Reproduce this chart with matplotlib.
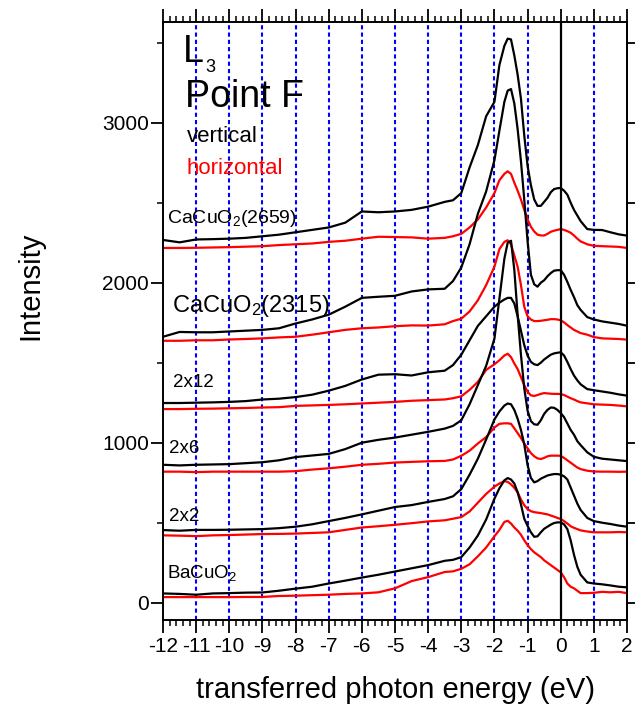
import matplotlib
matplotlib.use('Agg')
import matplotlib.pyplot as plt
from matplotlib.ticker import MultipleLocator

plt.rcParams.update({
    'font.family': ['Liberation Sans', 'DejaVu Sans'],
    'mathtext.fontset': 'custom',
    'mathtext.rm': 'Liberation Sans',
    'mathtext.it': 'Liberation Sans:italic',
    'mathtext.bf': 'Liberation Sans:bold',
    'axes.unicode_minus': False,
})

RED = '#ff0000'
BLUE = '#0000ff'

# transferred photon energy (eV), shared by all spectra
energy = [-12, -11.5, -11, -10.5, -10, -9.5, -9, -8.5, -8, -7.5, -7, -6.5, -6, -5.5, -5, -4.5, -4, -3.5,
          -3.25, -3, -2.75, -2.5, -2.25, -2.0,
          -1.85, -1.7, -1.6,
          -1.5, -1.4, -1.3, -1.2, -1.1, -1.0, -0.9, -0.8, -0.7, -0.6, -0.5, -0.4, -0.3, -0.2, -0.1,
          0, 0.1, 0.2, 0.3, 0.4, 0.5, 0.6,
          0.8, 1.0, 1.25, 1.5, 1.75, 2.0]

# CaCuO2 (2659)
cacuo2_2659_v = [2267, 2252, 2270, 2272, 2275, 2280, 2290, 2300, 2315, 2330, 2345, 2375, 2445, 2440, 2445, 2455, 2475, 2505,
                 2515, 2560, 2720, 2860, 3040, 3130,
                 3360, 3480, 3525,
                 3520, 3420, 3300, 3150, 2920, 2730, 2610, 2520, 2480, 2480, 2505, 2530, 2565, 2585, 2590,
                 2592, 2575, 2550, 2500, 2455, 2420, 2385,
                 2335, 2330, 2329, 2315, 2302, 2294]
cacuo2_2659_h = [2217, 2217, 2218, 2220, 2222, 2225, 2228, 2235, 2240, 2245, 2255, 2262, 2275, 2287, 2285, 2283, 2275, 2280,
                 2290, 2305, 2345, 2395, 2470, 2560,
                 2640, 2680, 2696,
                 2680, 2625, 2575, 2520, 2455, 2395, 2350, 2320, 2300, 2295, 2295, 2305, 2318, 2325, 2330,
                 2335, 2330, 2322, 2312, 2295, 2275, 2258,
                 2240, 2230, 2228, 2226, 2224, 2217]

# CaCuO2 (2315)
cacuo2_2315_v = [1662, 1692, 1690, 1690, 1695, 1700, 1705, 1715, 1745, 1770, 1800, 1850, 1905, 1912, 1918, 1945, 1958, 1962,
                 2010, 2095, 2240, 2430, 2570, 2765,
                 2950, 3130, 3200,
                 3210, 3120, 2960, 2760, 2520, 2260, 2050, 1990, 1975, 2000, 2015, 2040, 2060, 2075, 2078,
                 2078, 2050, 2005, 1955, 1910, 1860, 1830,
                 1785, 1770, 1758, 1750, 1742, 1731]
cacuo2_2315_h = [1637, 1637, 1640, 1640, 1645, 1648, 1652, 1658, 1662, 1675, 1690, 1705, 1715, 1720, 1728, 1733, 1732, 1740,
                 1760, 1775, 1820, 1890, 1985, 2100,
                 2210, 2255, 2265,
                 2240, 2170, 2100, 1985, 1850, 1790, 1770, 1760, 1760, 1762, 1765, 1768, 1772, 1772, 1770,
                 1765, 1752, 1735, 1720, 1705, 1695, 1685,
                 1675, 1660, 1652, 1650, 1648, 1644]

# 2x12 superlattice
sl_2x12_v = [1248, 1248, 1250, 1252, 1255, 1260, 1270, 1275, 1285, 1300, 1325, 1355, 1395, 1425, 1428, 1420, 1440, 1450,
             1485, 1550, 1640, 1730, 1790, 1850,
             1875, 1895, 1905,
             1905, 1870, 1790, 1700, 1610, 1545, 1505, 1490, 1485, 1500, 1520, 1535, 1550, 1558, 1562,
             1565, 1545, 1505, 1460, 1420, 1390, 1365,
             1335, 1328, 1320, 1312, 1302, 1294]
sl_2x12_h = [1210, 1210, 1212, 1213, 1215, 1217, 1220, 1222, 1230, 1233, 1236, 1240, 1245, 1250, 1255, 1262, 1266, 1270,
             1278, 1290, 1330, 1380, 1455, 1490,
             1515, 1545, 1556,
             1535, 1495, 1460, 1410, 1360, 1318, 1296, 1292, 1298, 1305, 1310, 1308, 1306, 1305, 1305,
             1304, 1298, 1288, 1278, 1270, 1260, 1252,
             1246, 1240, 1238, 1236, 1232, 1227]

# 2x6 superlattice
sl_2x6_v = [862, 858, 862, 864, 866, 872, 878, 890, 910, 920, 930, 960, 1000, 1018, 1032, 1050, 1068, 1088,
            1105, 1140, 1240, 1360, 1480, 1650,
            1900, 2150, 2250,
            2262, 2080, 1800, 1550, 1340, 1200, 1135, 1115, 1112, 1140, 1180, 1205, 1220, 1218, 1205,
            1185, 1160, 1120, 1080, 1050, 1010, 985,
            940, 912, 900, 895, 890, 885]
sl_2x6_h = [819, 819, 816, 819, 819, 819, 819, 819, 822, 832, 840, 850, 862, 868, 876, 880, 884, 886,
            895, 918, 950, 995, 1035, 1095,
            1118, 1121, 1121,
            1118, 1090, 1060, 1030, 995, 965, 935, 915, 902, 898, 905, 915, 919, 919, 919,
            918, 905, 890, 875, 860, 845, 835,
            825, 820, 819, 819, 818, 819]

# 2x2 superlattice
sl_2x2_v = [454, 450, 455, 455, 456, 458, 460, 466, 475, 490, 510, 530, 552, 575, 598, 610, 630, 648,
            665, 710, 800, 900, 1020, 1145,
            1195, 1232, 1245,
            1240, 1205, 1150, 1080, 990, 860, 780, 752, 760, 775, 785, 795, 800, 804, 804,
            800, 790, 770, 720, 670, 620, 580,
            530, 510, 500, 492, 482, 475]
sl_2x2_h = [421, 419, 416, 421, 423, 426, 429, 430, 432, 436, 440, 455, 470, 478, 487, 497, 508, 515,
            525, 535, 570, 625, 680, 725,
            745, 760, 755,
            740, 718, 690, 645, 610, 585, 572, 566, 563, 560, 556, 552, 545, 538, 530,
            523, 510, 495, 478, 468, 460, 452,
            445, 440, 440, 440, 442, 440]

# BaCuO2
bacuo2_v = [58, 55, 50, 58, 60, 63, 64, 75, 88, 100, 120, 138, 157, 175, 195, 215, 235, 262,
            268, 285, 345, 420, 520, 650,
            715, 765, 779,
            770, 745, 690, 615, 525, 480, 440, 412, 415, 440, 462, 475, 488, 498, 502,
            502, 490, 460, 390, 300, 225, 175,
            127, 120, 115, 108, 100, 96]
bacuo2_h = [35, 35, 35, 35, 35, 36, 36, 42, 44, 47, 50, 55, 58, 65, 90, 135, 160, 192,
            196, 212, 240, 290, 345, 415,
            455, 505, 512,
            495, 470, 450, 425, 390, 360, 335, 315, 300, 285, 265, 250, 235, 220, 205,
            190, 160, 120, 100, 90, 75, 60,
            60, 62, 68, 65, 68, 60]

vertical = [cacuo2_2659_v, cacuo2_2315_v, sl_2x12_v, sl_2x6_v, sl_2x2_v, bacuo2_v]
horizontal = [cacuo2_2659_h, cacuo2_2315_h, sl_2x12_h, sl_2x6_h, sl_2x2_h, bacuo2_h]

guide_lines = [-11, -10, -9, -8, -7, -6, -5, -4, -3, -2, -1, 1]

# sample labels: text, x, y (baseline), size
sample_labels = [
    ('CaCuO$_2$(2659)', -11.88, 2375, 14),
    ('CaCuO$_2$(2315)', -11.73, 1819, 17),
    ('2x12', -11.70, 1350, 13.5),
    ('2x6', -11.81, 934, 13.5),
    ('2x2', -11.81, 513, 13.5),
    ('BaCuO$_2$', -11.87, 152, 13.5),
]

fig = plt.figure(figsize=(6.36, 7.16), dpi=100)
ax = fig.add_axes([163 / 636, 1 - 620 / 716, 464 / 636, 598 / 716])

for x in guide_lines:
    ax.axvline(x, color=BLUE, lw=1.5, ls=(0, (2, 1.5)), zorder=1)
ax.axvline(0, color='black', lw=1.6, zorder=3)

for v, h in zip(vertical, horizontal):
    ax.plot(energy, h, color=RED, lw=1.6, zorder=2)
    ax.plot(energy, v, color='black', lw=1.6, zorder=2)

# legend-like text block
ax.text(-11.40, 3381, 'L', fontsize=27, ha='left', va='baseline')
ax.text(-10.73, 3319, '3', fontsize=13, ha='left', va='baseline')
ax.text(-11.35, 3096, 'Point F', fontsize=27, ha='left', va='baseline')
ax.text(-11.28, 2881, 'vertical', fontsize=16, ha='left', va='baseline', color='black')
ax.text(-11.28, 2679, 'horizontal', fontsize=16, ha='left', va='baseline', color=RED)

for text, x, y, size in sample_labels:
    ax.text(x, y, text, fontsize=size, ha='left', va='baseline')

ax.set_xlim(-12, 2)
ax.set_ylim(-108, 3629)

ax.xaxis.set_major_locator(MultipleLocator(1))
ax.xaxis.set_minor_locator(MultipleLocator(0.2))
ax.yaxis.set_major_locator(MultipleLocator(1000))
ax.yaxis.set_minor_locator(MultipleLocator(500))

ax.tick_params(axis='x', which='both', direction='out', top=True, bottom=True)
ax.tick_params(axis='x', which='major', length=9.5, width=1.3, labelsize=15, pad=3)
ax.tick_params(axis='x', which='minor', length=4.5, width=1.1)
ax.tick_params(axis='y', which='both', direction='out', left=True, right=False)
ax.tick_params(axis='y', which='major', length=8.5, width=1.3, labelsize=15, pad=1.5)
ax.tick_params(axis='y', which='minor', length=4.5, width=1.1)

rax = ax.secondary_yaxis('right')
rax.yaxis.set_major_locator(MultipleLocator(500))
rax.tick_params(axis='y', direction='out', length=6, width=1.3, labelright=False)
rax.spines['right'].set_linewidth(1.4)

for sp in ax.spines.values():
    sp.set_linewidth(1.4)

fig.text(30 / 636, 1 - 286 / 716, 'Intensity', rotation=90, fontsize=21,
         ha='center', va='center')
fig.text(396 / 636, 1 - 690 / 716, 'transferred photon energy (eV)', fontsize=21,
         ha='center', va='center')

fig.savefig('out.png', dpi=100)
